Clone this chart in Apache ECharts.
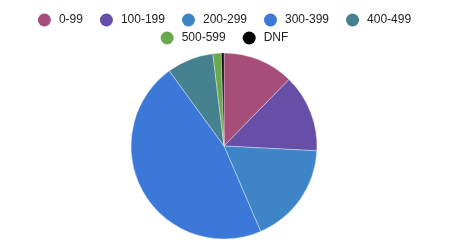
<!DOCTYPE html>
<html><head><meta charset="utf-8">
<script src="https://cdn.jsdelivr.net/npm/echarts@6/dist/echarts.min.js"></script>
<style>html,body{margin:0;padding:0;background:#fff}#c{width:449px;height:252px}</style>
</head><body><div id="c"></div>
<script>
const categories = ['0-99','100-199','200-299','300-399','400-499','500-599','DNF'];
const values = [12.3, 13.5, 17.7, 46.4, 8.1, 1.45, 0.46];
const colors = ['#a64d79','#674ea7','#3d85c6','#3c78d8','#45818e','#6aa84f','#000000'];
const chart = echarts.init(document.getElementById('c'));
const legendBase = {
  left:'center', padding:0,
  icon:'circle', itemWidth:13, itemHeight:13, itemGap:17,
  itemStyle:{borderWidth:0},
  textStyle:{fontFamily:'Liberation Sans, Arial', fontSize:12, color:'#222', padding:[0,0,0,3]}
};
chart.setOption({
  animation:false,
  color: colors,
  legend:[
    Object.assign({}, legendBase, {top:13.5, data: categories.slice(0,5)}),
    Object.assign({}, legendBase, {top:31.5, data: categories.slice(5)})
  ],
  series:[{
    type:'pie', center:[224,146], radius:93, startAngle:90, clockwise:true,
    label:{show:false}, labelLine:{show:false},
    itemStyle:{borderColor:'rgba(255,255,255,0.6)', borderWidth:0.6},
    data: categories.map((n,i)=>({name:n, value:values[i]}))
  }]
});
</script></body></html>
